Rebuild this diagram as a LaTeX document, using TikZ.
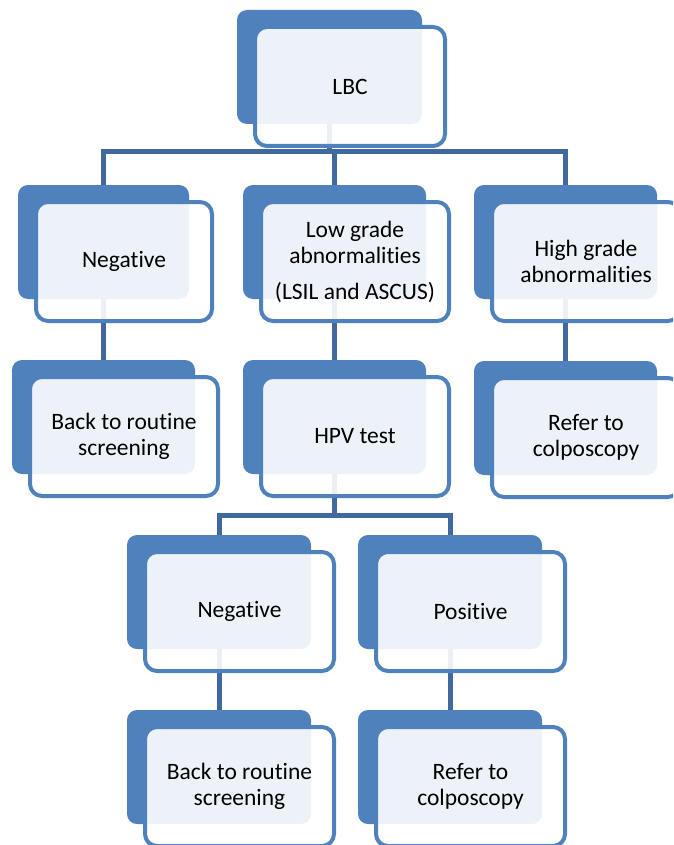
\documentclass[tikz,border=0pt]{standalone}
\usepackage{fontspec}
\setmainfont{Carlito}[Ligatures={NoCommon}]
\usetikzlibrary{backgrounds}
\definecolor{smblue}{HTML}{4F81BD}
\definecolor{connblue}{HTML}{40699F}
\tikzset{
  backbox/.style={rectangle, rounded corners=10pt, fill=smblue, draw=none,
    minimum height=114pt, inner sep=0pt, outer sep=0pt},
  frontbox/.style={rectangle, rounded corners=12pt, draw=smblue, line width=4pt,
    fill=white, fill opacity=0.9, text opacity=1, minimum height=119pt,
    inner sep=0pt, outer sep=0pt, align=center, text=black,
    font=\fontsize{23.5}{26}\selectfont},
  conn/.style={draw=connblue, line width=5pt}
}
\newcommand\mybox[5]{%
  \node[backbox, minimum width=#4pt] (#1B) at ({#2+#4/2},{#3+57}) {};
  \node[frontbox, minimum width=#4pt+5pt] (#1) at ({#2+16+(#4+9)/2},{#3+15+61.5}) {#5};
}
\begin{document}
\begin{tikzpicture}[x=1pt,y=-1pt]
\useasboundingbox (0,0) rectangle (673,845);
\clip (0,0) rectangle (673,845);
\mybox{lbc}{237}{10}{185}{LBC}
\mybox{negA}{18}{185}{171}{Negative}
\mybox{low}{243}{185}{183}{Low grade\\abnormalities\\[10pt](LSIL and ASCUS)}
\mybox{high}{474}{185}{183}{High grade\\abnormalities}
\mybox{backA}{12}{360}{183}{Back to routine\\screening}
\mybox{hpv}{243}{360}{183}{HPV test}
\mybox{refA}{474}{361}{183}{Refer to\\colposcopy}
\mybox{negB}{127}{535}{184}{Negative}
\mybox{pos}{358}{535}{184}{Positive}
\mybox{backB}{127}{710}{184}{Back to routine\\screening}
\mybox{refB}{358}{710}{184}{Refer to\\colposcopy}
\begin{scope}[on background layer]
  \fill[white] (0,0) rectangle (673,845);
  \coordinate (barA) at (0,152);
  \coordinate (barB) at (0,515);
  \draw[conn] (lbcB.center) -- (lbcB.center |- barA) -| (negAB.center);
  \draw[conn] (lbcB.center |- barA) -| (lowB.center);
  \draw[conn] (lbcB.center |- barA) -| (highB.center);
  \draw[conn] (negAB.center) -- (negAB.center |- backAB.center);
  \draw[conn] (lowB.center) -- (lowB.center |- hpvB.center);
  \draw[conn] (highB.center) -- (highB.center |- refAB.center);
  \draw[conn] (hpvB.center) -- (hpvB.center |- barB) -| (negBB.center);
  \draw[conn] (hpvB.center |- barB) -| (posB.center);
  \draw[conn] (negBB.center) -- (negBB.center |- backBB.center);
  \draw[conn] (posB.center) -- (posB.center |- refBB.center);
\end{scope}
\end{tikzpicture}
\end{document}
